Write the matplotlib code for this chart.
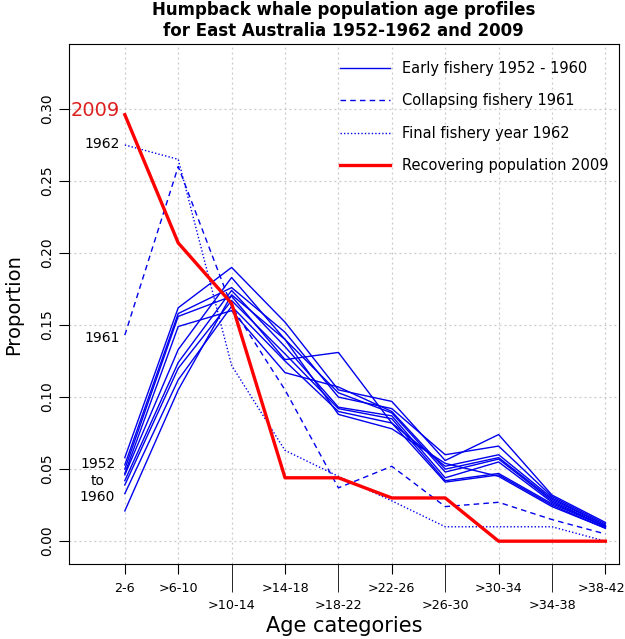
import numpy as np
from matplotlib import pyplot as plt
from matplotlib.lines import Line2D
from matplotlib.transforms import ScaledTranslation

# age categories (x axis)
categories = ["2-6", ">6-10", ">10-14", ">14-18", ">18-22",
              ">22-26", ">26-30", ">30-34", ">34-38", ">38-42"]

# early fishery 1952 - 1960, one row per year
early = [
    [0.058, 0.162, 0.190, 0.152, 0.105, 0.097, 0.056, 0.074, 0.032, 0.013],
    [0.053, 0.158, 0.176, 0.145, 0.100, 0.092, 0.060, 0.066, 0.031, 0.012],
    [0.050, 0.156, 0.170, 0.126, 0.131, 0.082, 0.052, 0.060, 0.030, 0.011],
    [0.047, 0.149, 0.160, 0.117, 0.107, 0.090, 0.050, 0.058, 0.029, 0.011],
    [0.046, 0.133, 0.183, 0.140, 0.103, 0.089, 0.048, 0.057, 0.028, 0.010],
    [0.042, 0.124, 0.174, 0.135, 0.093, 0.087, 0.044, 0.055, 0.027, 0.010],
    [0.039, 0.120, 0.167, 0.130, 0.092, 0.085, 0.042, 0.047, 0.026, 0.010],
    [0.033, 0.112, 0.163, 0.125, 0.090, 0.082, 0.041, 0.046, 0.025, 0.009],
    [0.021, 0.105, 0.171, 0.140, 0.088, 0.078, 0.054, 0.045, 0.024, 0.009],
]
collapsing_1961 = [0.143, 0.260, 0.163, 0.105, 0.037, 0.052, 0.024, 0.027, 0.015, 0.005]
final_1962 = [0.275, 0.265, 0.122, 0.063, 0.045, 0.028, 0.010, 0.010, 0.010, 0.000]
recovering_2009 = [0.296, 0.207, 0.165, 0.044, 0.044, 0.030, 0.030, 0.000, 0.000, 0.000]

yticks = [0.00, 0.05, 0.10, 0.15, 0.20, 0.25, 0.30]

x = np.arange(1, len(categories) + 1)
blue = "#0000ee"

fig = plt.figure(figsize=(6.25, 6.39), dpi=100)
ax = fig.add_axes([0.110, 0.117, 0.880, 0.814])

# grid
for xv in x:
    ax.axvline(xv, color="#c8c8c8", lw=0.9, ls=(0, (1.5, 2.5)), zorder=0)
for yv in yticks:
    ax.axhline(yv, color="#c8c8c8", lw=0.9, ls=(0, (1.5, 2.5)), zorder=0)

for row in early:
    ax.plot(x, row, color=blue, lw=1.0)
ax.plot(x, collapsing_1961, color=blue, lw=1.0, ls=(0, (4, 3)))
ax.plot(x, final_1962, color=blue, lw=1.0, ls=(0, (1, 1.5)))
ax.plot(x, recovering_2009, color="red", lw=2.4, zorder=5)

# labels at the left of the lines
ax.text(0.9, recovering_2009[0] + 0.003, "2009", color="#dd2020", fontsize=14,
        ha="right", va="center")
ax.text(0.9, final_1962[0] + 0.001, "1962", fontsize=10, ha="right", va="center")
ax.text(0.9, collapsing_1961[0] - 0.002, "1961", fontsize=10, ha="right", va="center")
ax.text(0.49, 0.042, "1952\nto\n1960", fontsize=10, ha="center", va="center",
        linespacing=1.2)

ax.set_xlim(-0.05, 10.25)
ax.set_ylim(-0.016, 0.345)

# x ticks: two rows of labels, long ticks for the lower row
upper = [0, 1, 3, 5, 7, 9]
lower = [2, 4, 6, 8]
ax.set_xticks(x[upper], [categories[i] for i in upper])
ax.set_xticks(x[lower], [categories[i] for i in lower], minor=True)
ax.tick_params(axis="x", which="major", length=7, pad=6, labelsize=9.2)
ax.tick_params(axis="x", which="minor", length=20, pad=5, labelsize=9.2)
# last label sits against the right edge of the figure
last = ax.get_xticklabels()[-1]
last.set_transform(last.get_transform() + ScaledTranslation(-4 / 100, 0, fig.dpi_scale_trans))

ax.set_yticks(yticks, [f"{v:.2f}" for v in yticks])
ax.tick_params(axis="y", length=7, labelsize=10)
for lab in ax.get_yticklabels():
    lab.set_rotation(90)
    lab.set_va("center")

ax.set_xlabel("Age categories", fontsize=15, labelpad=3)
ax.set_ylabel("Proportion", fontsize=14, labelpad=12)
ax.set_title("Humpback whale population age profiles\nfor East Australia 1952-1962 and 2009",
             fontsize=12, fontweight="bold", pad=6)

handles = [
    Line2D([], [], color=blue, lw=1.0),
    Line2D([], [], color=blue, lw=1.0, ls=(0, (4, 3))),
    Line2D([], [], color=blue, lw=1.0, ls=(0, (1, 1.5))),
    Line2D([], [], color="red", lw=2.4),
]
names = ["Early fishery 1952 - 1960", "Collapsing fishery 1961",
         "Final fishery year 1962", "Recovering population 2009"]
ax.legend(handles, names, loc="upper right", frameon=False, fontsize=10.5,
          handlelength=3.4, labelspacing=1.18, handletextpad=0.85,
          borderaxespad=0.6, bbox_to_anchor=(1.008, 0.995))

fig.savefig("out.png", dpi=100)
